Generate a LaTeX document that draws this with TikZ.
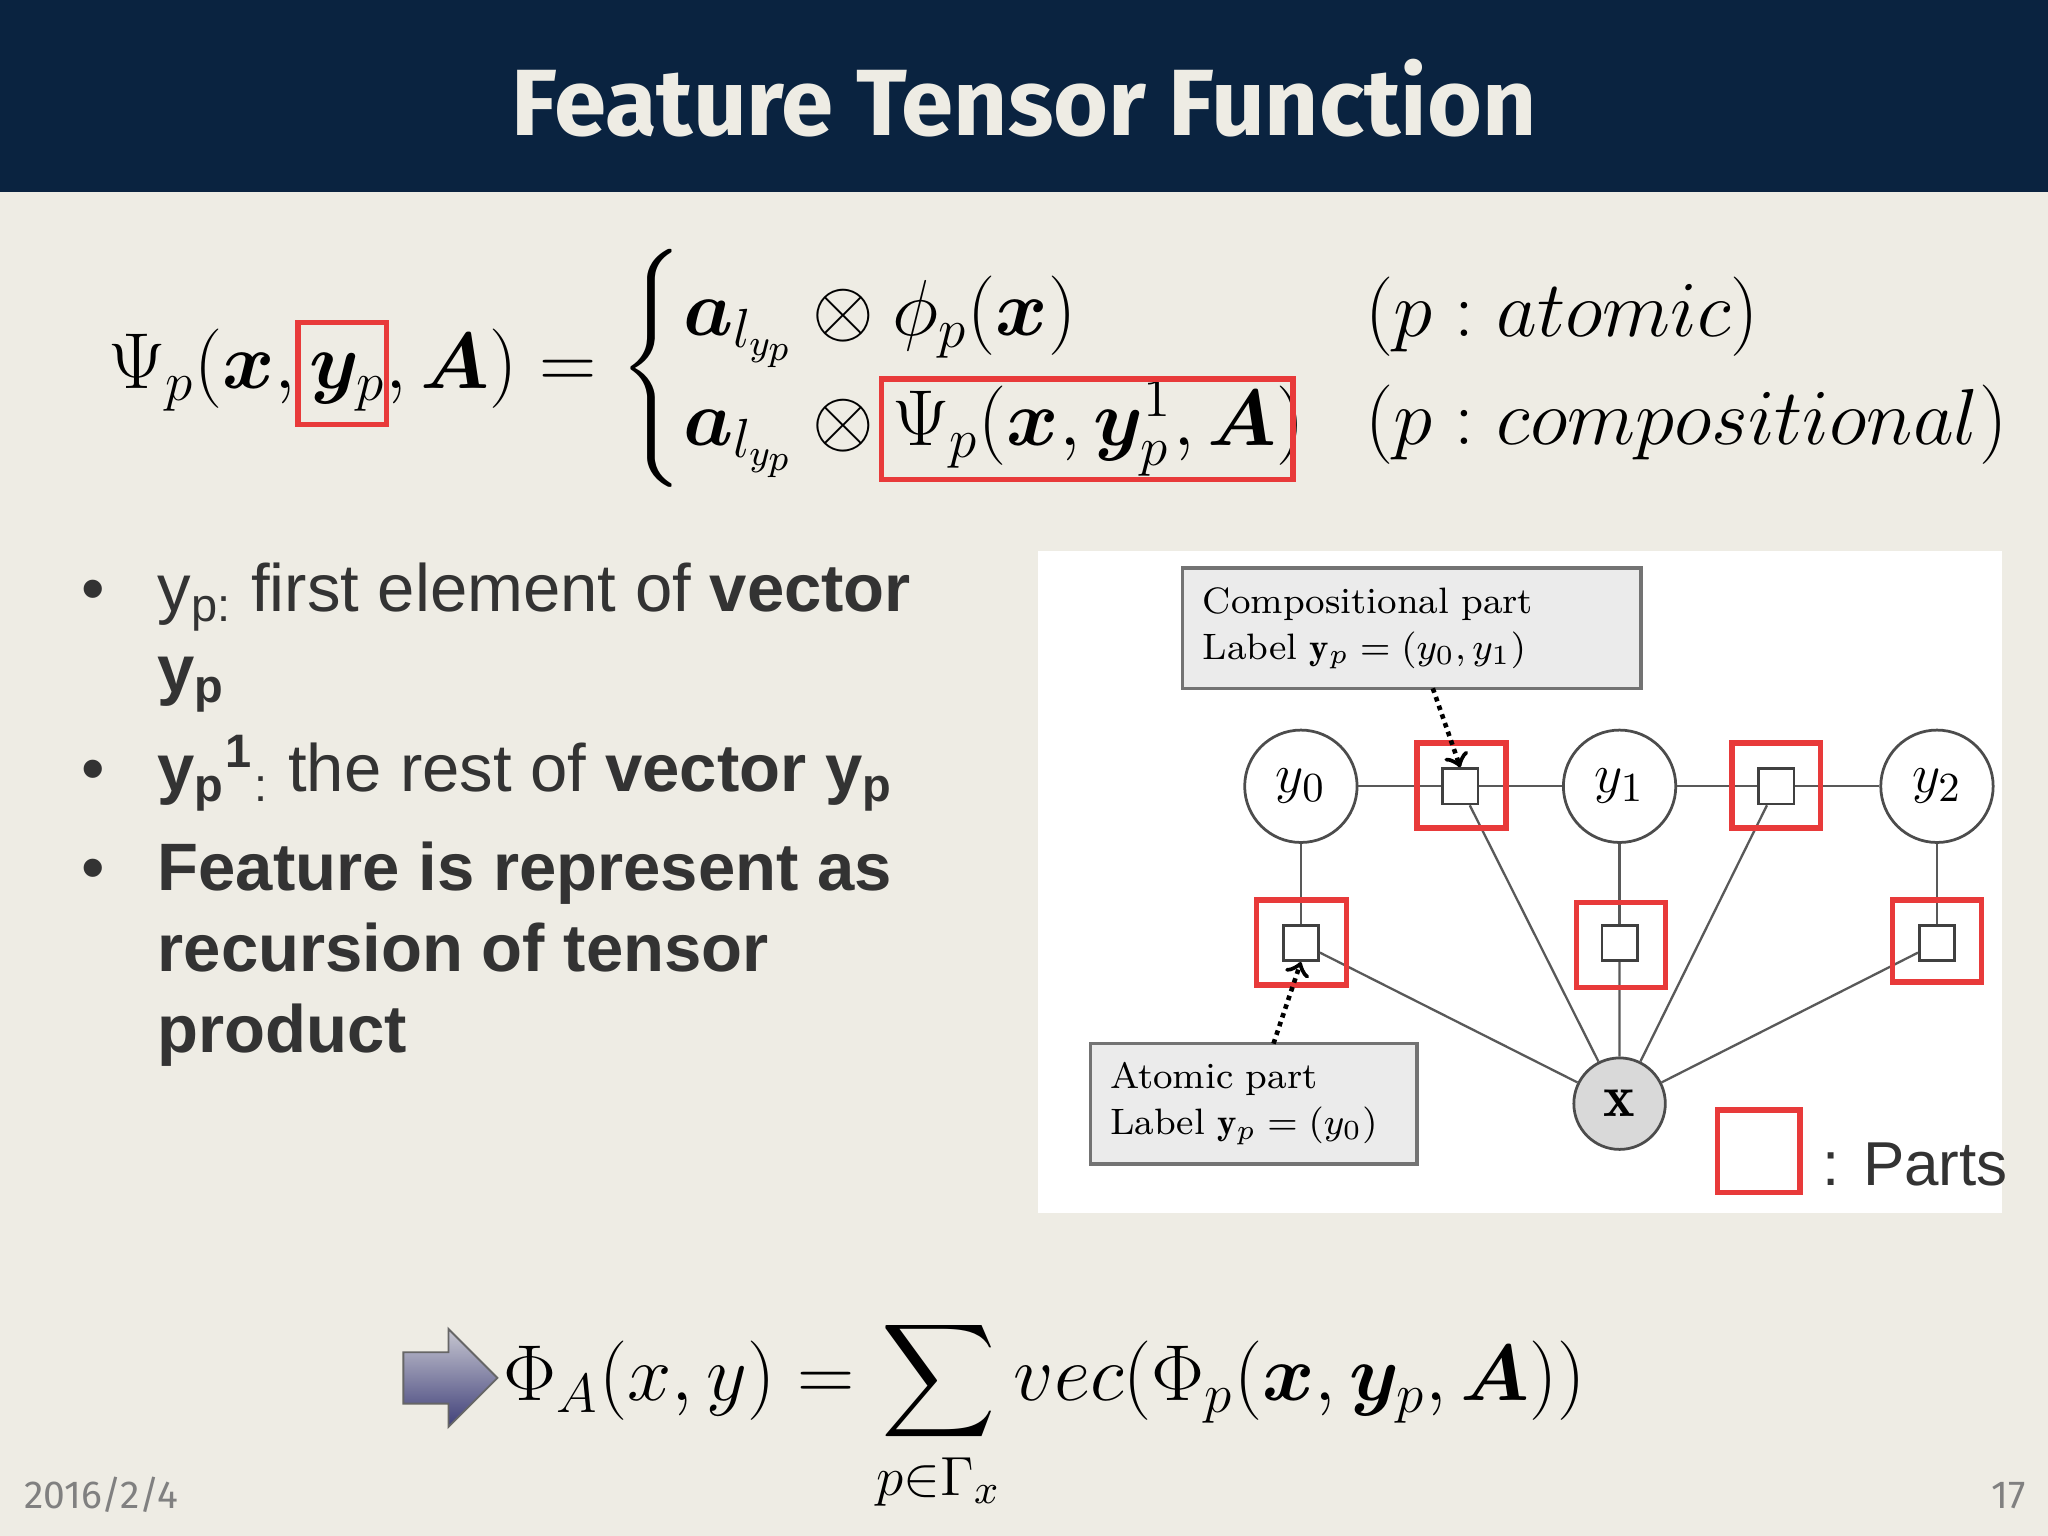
\documentclass[tikz,border=0pt]{standalone}
\usepackage{amsmath,bm}
\usepackage{fontspec}
\setsansfont{Liberation Sans}
\newfontfamily\titlefont{Fira Sans}
\usetikzlibrary{shapes.arrows}
\definecolor{navy}{HTML}{0A2340}
\definecolor{bg}{HTML}{EEECE4}
\definecolor{txt}{HTML}{333333}
\definecolor{redb}{HTML}{E83A3A}
\begin{document}
\begin{tikzpicture}[x=0.01cm,y=-0.01cm,
  redbox/.style={draw=redb,line width=1.2pt},
  circ/.style={circle,draw=black!70,line width=0.6pt,fill=white,minimum size=0.86cm,inner sep=0pt,font=\fontsize{13}{14}\selectfont},
  sq/.style={draw=black!75,line width=0.6pt,fill=white,minimum size=0.27cm,inner sep=0pt},
  edge/.style={draw=black!65,line width=0.5pt},
  lbox/.style={draw=black!55,line width=0.8pt,fill=black!8,align=left,font=\fontsize{8}{10}\selectfont,inner sep=4pt},
  btxt/.style={anchor=base west,inner sep=0pt,font=\sffamily\fontsize{14.6}{16}\selectfont,text=txt}]
\fill[bg] (0,0) rectangle (1568,1176);
\useasboundingbox (0,0) rectangle (1568,1176);
\fill[navy] (0,0) rectangle (1568,147);
\node[text=bg,font=\titlefont\bfseries\fontsize{20.5}{24}\selectfont] (title) at (784,75) {Feature Tensor Function};
% equation
\node[anchor=west,inner sep=0pt] (eq) at (82,282) {\fontsize{16.5}{20}\selectfont$\Psi_p(\bm x,\bm y_p,\bm A)=
\begin{cases}\bm a_{l_{y_p}}\otimes\phi_p(\bm x)\\
\bm a_{l_{y_p}}\otimes\Psi_p(\bm x,\bm y_p^1,\bm A)\end{cases}$};
\node[anchor=base west,inner sep=0pt] (r1) at (1045,258) {\fontsize{16}{20}\selectfont$(p: atomic)$};
\node[anchor=base west,inner sep=0pt] (r2) at (1045,340) {\fontsize{16}{20}\selectfont$(p: compositional)$};
\draw[redbox] (228,247) rectangle (296,325);
\draw[redbox] (675,290) rectangle (990,367);
% bullets
\foreach \yy/\nm in {468/b1,606/b2,682/b3}{\node[btxt] (\nm) at (62,\yy) {•};}
\node[btxt] (t1) at (120,468) {y\textsubscript{p:} first element of \textbf{vector}};
\node[btxt] (t1b) at (120,530) {\textbf{y\textsubscript{p}}};
\node[btxt] (t2) at (120,606) {\textbf{y\textsubscript{p}}\textsuperscript{\textbf{1}}\textsubscript{:} the rest of \textbf{vector y\textsubscript{p}}};
\node[btxt] (t3) at (120,682) {\textbf{Feature is represent as}};
\node[btxt] (t3b) at (120,744) {\textbf{recursion of tensor}};
\node[btxt] (t3c) at (120,806) {\textbf{product}};
% diagram panel
\fill[white] (795,422) rectangle (1533,929);
\node[circ] (y0) at (996,602) {$y_0$};
\node[circ] (y1) at (1240,602) {$y_1$};
\node[circ] (y2) at (1483,602) {$y_2$};
\node[circ,fill=black!15,minimum size=0.7cm] (x) at (1240,845) {$\mathbf{x}$};
\node[sq] (s1) at (1118,602) {};
\node[sq] (s2) at (1360,602) {};
\node[sq] (a0) at (996,722) {};
\node[sq] (a1) at (1240,722) {};
\node[sq] (a2) at (1483,722) {};
\draw[edge] (y0)--(s1)--(y1)--(s2)--(y2);
\draw[edge] (y0)--(a0) (y1)--(a1) (y2)--(a2);
\draw[edge] (a0)--(x) (a1)--(x) (a2)--(x) (s1)--(x) (s2)--(x);
\draw[redbox] (1085,569) rectangle (1153,634);
\draw[redbox] (1326,569) rectangle (1394,634);
\draw[redbox] (962,689) rectangle (1031,754);
\draw[redbox] (1207,691) rectangle (1275,756);
\draw[redbox] (1449,689) rectangle (1517,752);
\node[lbox,minimum width=3.51cm,minimum height=0.92cm,text width=3.2cm] (cb) at (1081,481) {Compositional part\\Label $\mathbf{y}_p=(y_0,y_1)$};
\node[lbox,minimum width=2.5cm,minimum height=0.92cm,text width=2.2cm] (ab) at (960,845) {Atomic part\\Label $\mathbf{y}_p=(y_0)$};
\coordinate (c1) at (1097,527);
\draw[densely dotted,line width=1pt,->] (c1) -- (s1.north);
\coordinate (c2) at (975,799);
\draw[densely dotted,line width=1pt,->] (c2) -- (a0.south);
\draw[redbox] (1315,850) rectangle (1378,913);
\node[btxt,font=\sffamily\fontsize{13.5}{16}\selectfont] (parts) at (1395,908) {: Parts};
% bottom
\node[single arrow,draw=black!60,top color=blue!10!gray!40,bottom color=blue!30!black!75,shading angle=0,minimum height=0.72cm,minimum width=0.75cm,single arrow head extend=2pt,inner sep=2pt] (arr) at (335,1055) {};
\node[anchor=west,inner sep=0pt] (f) at (385,1084) {\fontsize{18.5}{22}\selectfont$\Phi_A(x,y)=\displaystyle\sum_{p\in\Gamma_x} vec(\Phi_p(\bm x,\bm y_p,\bm A))$};
\node[anchor=base west,inner sep=0pt,text=black!50,font=\titlefont\fontsize{8.5}{10}\selectfont] (date) at (18,1155) {2016/2/4};
\node[anchor=base east,inner sep=0pt,text=black!50,font=\titlefont\fontsize{8.5}{10}\selectfont] (pg) at (1552,1155) {17};
\end{tikzpicture}
\end{document}
